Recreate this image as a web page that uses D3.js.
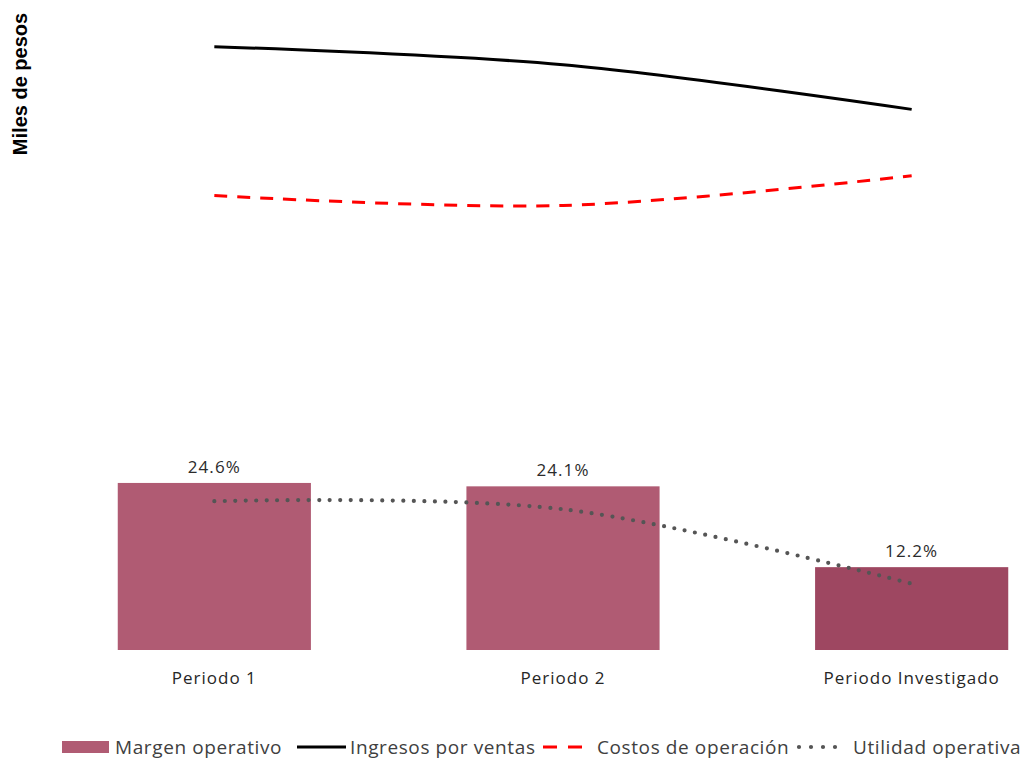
<!DOCTYPE html>
<html><head><meta charset="utf-8">
<script src="https://cdn.jsdelivr.net/npm/d3@7"></script>
<style>body{margin:0;background:#fff}svg{display:block}</style>
</head><body>
<svg id="c" width="1029" height="759"></svg>
<script>
const categories = ["Periodo 1", "Periodo 2", "Periodo Investigado"];
const margenOperativo = [24.6, 24.1, 12.2];        // %
const ingresosPorVentas = [973, 944, 872];          // miles de pesos (index)
const costosDeOperacion = [733, 717, 765];
const utilidadOperativa = [240, 227, 107];
const barLabels = ["24.6%", "24.1%", "12.2%"];
const barColors = ["#B05B73", "#B05B73", "#9E4761"];
const legendItems = ["Margen operativo", "Ingresos por ventas", "Costos de operación", "Utilidad operativa"];

const svg = d3.select("#c");
const font = "'Open Sans','Lato',sans-serif";
const plotTop = 30, plotBottom = 650;

const x = d3.scaleBand().domain(categories).range([40, 1086]).paddingInner(0.446).paddingOuter(0.223);
const yBar = d3.scaleLinear().domain([0, 91.3]).range([plotBottom, plotTop]);
const yLine = d3.scaleLinear().domain([0, 1000]).range([plotBottom, plotTop]);

// bars
svg.append("g").selectAll("rect").data(margenOperativo).join("rect")
  .attr("x", (d, i) => x(categories[i]))
  .attr("y", d => yBar(d))
  .attr("width", x.bandwidth())
  .attr("height", d => yBar(0) - yBar(d))
  .attr("fill", (d, i) => barColors[i]);

// bar labels
svg.append("g").selectAll("text").data(margenOperativo).join("text")
  .attr("x", (d, i) => x(categories[i]) + x.bandwidth() / 2)
  .attr("y", d => yBar(d) - 10)
  .attr("text-anchor", "middle")
  .attr("font-family", font).attr("font-size", 17).attr("letter-spacing", 1.1).attr("fill", "#2b2b2b")
  .text((d, i) => barLabels[i]);

// category axis labels
const xAxis = d3.axisBottom(x).tickSize(0).tickPadding(22);
const gx = svg.append("g").attr("transform", `translate(0,${plotBottom})`).call(xAxis);
gx.select(".domain").remove();
gx.selectAll("text").attr("font-family", font).attr("font-size", 17).attr("letter-spacing", 1)
  .attr("fill", "#262626");

const cx = d => x(d) + x.bandwidth() / 2;
const lineGen = d3.line().x((d, i) => cx(categories[i])).y(d => yLine(d)).curve(d3.curveCardinal.tension(0));

svg.append("path").datum(ingresosPorVentas).attr("d", lineGen)
  .attr("fill", "none").attr("stroke", "#000").attr("stroke-width", 3);
svg.append("path").datum(costosDeOperacion).attr("d", lineGen)
  .attr("fill", "none").attr("stroke", "#FF0000").attr("stroke-width", 3).attr("stroke-dasharray", "13,10");
svg.append("path").datum(utilidadOperativa).attr("d", lineGen)
  .attr("fill", "none").attr("stroke", "#555").attr("stroke-width", 4.2)
  .attr("stroke-linecap", "round").attr("stroke-dasharray", "0,10.5");

// y axis title
svg.append("text").attr("transform", "translate(27,84) rotate(-90)")
  .attr("text-anchor", "middle").attr("font-family", "'Liberation Sans',Arial,sans-serif")
  .attr("font-weight", "bold").attr("font-size", 20).attr("fill", "#000").text("Miles de pesos");

// legend
const lg = svg.append("g").attr("font-family", font).attr("font-size", 19).attr("letter-spacing", 0.6).attr("fill", "#404040");
const ly = 747;
lg.append("rect").attr("x", 62).attr("y", ly - 6).attr("width", 47).attr("height", 12).attr("fill", barColors[0]);
lg.append("text").attr("x", 115).attr("y", ly + 7).text(legendItems[0]);
lg.append("line").attr("x1", 297).attr("x2", 346).attr("y1", ly).attr("y2", ly).attr("stroke", "#000").attr("stroke-width", 3);
lg.append("text").attr("x", 350).attr("y", ly + 7).text(legendItems[1]);
lg.append("line").attr("x1", 543).attr("x2", 583).attr("y1", ly).attr("y2", ly).attr("stroke", "#FF0000").attr("stroke-width", 3).attr("stroke-dasharray", "14,11");
lg.append("text").attr("x", 597).attr("y", ly + 7).text(legendItems[2]);
lg.append("line").attr("x1", 799).attr("x2", 847).attr("y1", ly).attr("y2", ly).attr("stroke", "#555").attr("stroke-width", 4.2).attr("stroke-linecap", "round").attr("stroke-dasharray", "0,12");
lg.append("text").attr("x", 853).attr("y", ly + 7).text(legendItems[3]);
</script>
</body></html>
